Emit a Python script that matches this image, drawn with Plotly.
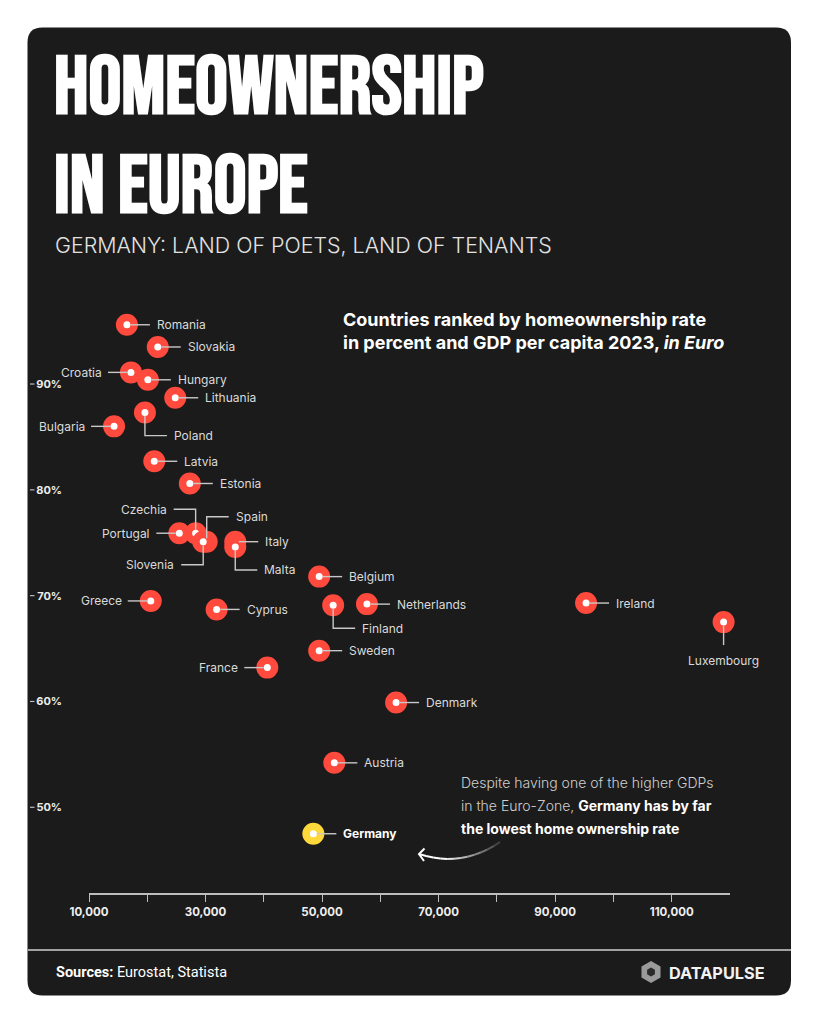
import math
import plotly.graph_objects as go

# ---------------- data ----------------
countries = ["Romania", "Slovakia", "Croatia", "Hungary", "Lithuania", "Poland", "Bulgaria",
             "Latvia", "Estonia", "Czechia", "Portugal", "Spain", "Slovenia", "Italy", "Malta",
             "Belgium", "Greece", "Cyprus", "Finland", "Netherlands", "Sweden", "France",
             "Ireland", "Luxembourg", "Denmark", "Austria", "Germany"]
gdp_per_capita = [16500, 21800, 17200, 20100, 24800, 19600, 14300,
                  21200, 27300, 28300, 25500, 30200, 29600, 35100, 35100,
                  49500, 20600, 31900, 51900, 57700, 49500, 40600,
                  95300, 118900, 62700, 52100, 48500]
ownership_rate = [95.6, 93.5, 91.1, 90.4, 88.7, 87.3, 86.0,
                  82.7, 80.6, 75.9, 75.9, 75.1, 75.1, 75.1, 74.6,
                  71.8, 69.5, 68.7, 69.1, 69.2, 64.8, 63.2,
                  69.3, 67.5, 59.9, 54.2, 47.5]
label_side = ["r", "r", "l", "r", "r", "dr", "l",
              "r", "r", "ul", "l", "ur", "dl", "r", "dr",
              "r", "l", "r", "dr", "r", "r", "l",
              "r", "d", "r", "r", "r"]
highlight = "Germany"

x_tickvals = [10000, 20000, 30000, 40000, 50000, 60000, 70000, 80000, 90000, 100000, 110000]
x_ticktext = ["10,000", "", "30,000", "", "50,000", "", "70,000", "", "90,000", "", "110,000"]
y_tickvals = [50, 60, 70, 80, 90]
y_ticktext = ["50%", "60%", "70%", "80%", "90%"]

# ---------------- geometry (page pixels; the page body has an 8px margin) ----------------
OFF = 8
W, H = 819 - OFF, 1024 - OFF
PL, PR, PT, PB = 89, 730, 300, 893          # plot area in page pixels
ML, MT = PL - OFF, PT - OFF
MR, MB = W - (PR - OFF), H - (PB - OFF)
PW, PH = PR - PL, PB - PT

CARD = "#1b1b1b"
RED = "#ff4a3d"
YELLOW = "#ffd83b"
LINE = "#c8c8c8"
TXT = "#dadada"
BODY = "Inter, 'Noto Sans', sans-serif"
TITLE_FONT = "'Bebas Neue', Oswald, Anton, 'League Gothic', 'Roboto Condensed', 'Liberation Sans Narrow', 'DejaVu Sans Condensed', sans-serif"


def px(xp):
    return (xp - PL) / PW


def py(yp):
    return (PB - yp) / PH


fig = go.Figure()

colors = [YELLOW if c == highlight else RED for c in countries]
fig.add_trace(go.Scatter(
    x=gdp_per_capita, y=ownership_rate, mode="markers",
    marker=dict(size=14.5, color="white", line=dict(color=colors, width=7.5)),
    hoverinfo="text", text=countries, showlegend=False, cliponaxis=False,
))

shapes = []
annotations = []

# card background
x0, x1, y0, y1 = px(27.5), px(791), py(27.5), py(995.5)
rx, ry = 15 / PW, 15 / PH
card_path = (f"M {x0+rx},{y0} L {x1-rx},{y0} Q {x1},{y0} {x1},{y0-ry} "
             f"L {x1},{y1+ry} Q {x1},{y1} {x1-rx},{y1} L {x0+rx},{y1} "
             f"Q {x0},{y1} {x0},{y1+ry} L {x0},{y0-ry} Q {x0},{y0} {x0+rx},{y0} Z")
shapes.append(dict(type="path", xref="paper", yref="paper", path=card_path,
                   fillcolor=CARD, line=dict(width=0), layer="below"))

# footer divider
shapes.append(dict(type="line", xref="paper", yref="paper", x0=px(28), x1=px(791),
                   y0=py(950), y1=py(950), line=dict(color="#d0d0d0", width=1.5), layer="below"))

# y tick dashes
for v in y_tickvals:
    shapes.append(dict(type="line", xref="paper", yref="y", x0=px(30), x1=px(34.5),
                       y0=v, y1=v, line=dict(color="#bbbbbb", width=1.2)))

# leader lines & labels
L, G, E = 23, 28, 23
for c, xv, yv, s in zip(countries, gdp_per_capita, ownership_rate, label_side):
    if s == "r":
        path, tx, ty, anc = f"M 3.5,0 L {L},0", G, 0, "left"
    elif s == "l":
        path, tx, ty, anc = f"M -3.5,0 L {-L},0", -G + 1, 0, "right"
    elif s == "dr":
        path, tx, ty, anc = f"M 0,-3.5 L 0,{-E} L {L-1},{-E}", G - 1, -E, "left"
    elif s == "dl":
        path, tx, ty, anc = f"M 0,-3.5 L 0,{-E} L {-(L-1)},{-E}", -(G - 1), -E, "right"
    elif s == "ul":
        path, tx, ty, anc = f"M 0,3.5 L 0,{E+1} L {-(L-1)},{E+1}", -(G - 1), E + 1, "right"
    elif s == "ur":
        path, tx, ty, anc = f"M 0,3.5 L 0,{E+2} L {L-1},{E+2}", G - 1, E + 2, "left"
    else:  # down, label centred below
        path, tx, ty, anc = f"M 0,-3.5 L 0,{-E}", 0, -38, "center"
    shapes.append(dict(type="path", xref="x", yref="y", xsizemode="pixel", ysizemode="pixel",
                       xanchor=xv, yanchor=yv, path=path,
                       line=dict(color=LINE, width=1.4)))
    is_hl = c == highlight
    annotations.append(dict(x=xv, y=yv, xref="x", yref="y", text=f"<b>{c}</b>" if is_hl else c,
                            showarrow=False, xanchor=anc, yanchor="middle", xshift=tx, yshift=ty,
                            font=dict(family=BODY, size=12, color="white" if is_hl else TXT)))

# titles
annotations.append(dict(xref="paper", yref="paper", x=px(52), y=py(88), text="HOMEOWNERSHIP",
                        showarrow=False, xanchor="left", yanchor="middle",
                        font=dict(family=TITLE_FONT, size=82, color="white", weight=700)))
annotations.append(dict(xref="paper", yref="paper", x=px(52), y=py(187), text="IN EUROPE",
                        showarrow=False, xanchor="left", yanchor="middle",
                        font=dict(family=TITLE_FONT, size=82, color="white", weight=700)))
annotations.append(dict(xref="paper", yref="paper", x=px(53), y=py(245),
                        text="GERMANY: LAND OF POETS, LAND OF TENANTS",
                        showarrow=False, xanchor="left", yanchor="middle",
                        font=dict(family=BODY, size=21.4, color="#e2e2e2", weight=300)))

# chart heading
annotations.append(dict(xref="paper", yref="paper", x=px(341), y=py(319),
                        text="Countries ranked by homeownership rate",
                        showarrow=False, xanchor="left", yanchor="middle",
                        font=dict(family=BODY, size=18, color="white", weight=700)))
annotations.append(dict(xref="paper", yref="paper", x=px(341), y=py(342),
                        text="in percent and GDP per capita 2023, <i>in Euro</i>",
                        showarrow=False, xanchor="left", yanchor="middle",
                        font=dict(family=BODY, size=18, color="white", weight=700)))

# callout text
callout = ["Despite having one of the higher GDPs",
           "in the Euro-Zone, <span style='color:white'><b>Germany has by far</b></span>",
           "<span style='color:white'><b>the lowest home ownership rate</b></span>"]
for i, t in enumerate(callout):
    annotations.append(dict(xref="paper", yref="paper", x=px(459), y=py(782 + 23 * i), text=t,
                            showarrow=False, xanchor="left", yanchor="middle",
                            font=dict(family=BODY, size=14, color="#cfcfcf", weight=300)))

# curved arrow (fading toward the right)
P0, P1, P2 = (500, 842), (462, 868), (419, 854)
n = 12
pts = []
for i in range(n + 1):
    t = i / n
    pts.append(((1 - t) ** 2 * P0[0] + 2 * (1 - t) * t * P1[0] + t ** 2 * P2[0],
                (1 - t) ** 2 * P0[1] + 2 * (1 - t) * t * P1[1] + t ** 2 * P2[1]))
for i in range(n):
    op = min(1.0, 0.08 + 1.2 * (i + 1) / n)
    shapes.append(dict(type="line", xref="paper", yref="paper",
                       x0=px(pts[i][0]), y0=py(pts[i][1]), x1=px(pts[i + 1][0]), y1=py(pts[i + 1][1]),
                       line=dict(color=f"rgba(255,255,255,{op:.2f})", width=2)))
shapes.append(dict(type="path", xref="paper", yref="paper",
                   path=f"M {px(424.5)},{py(848.5)} L {px(419)},{py(854)} L {px(424)},{py(861)}",
                   line=dict(color="white", width=2)))

# footer
annotations.append(dict(xref="paper", yref="paper", x=px(54), y=py(972),
                        text="<b>Sources:</b> Eurostat, Statista",
                        showarrow=False, xanchor="left", yanchor="middle",
                        font=dict(family="Roboto, sans-serif", size=14.5, color="white")))
# logo
hx, hy, hr = 651, 972, 11
hex_pts = [(hx + hr * math.cos(math.radians(90 + 60 * k)), hy + hr * math.sin(math.radians(90 + 60 * k)))
           for k in range(6)]
hex_path = "M " + " L ".join(f"{px(a)},{py(b)}" for a, b in hex_pts) + " Z"
shapes.append(dict(type="path", xref="paper", yref="paper", path=hex_path,
                   fillcolor="#9a9a9a", line=dict(width=0)))
hex_in = [(hx + 4.5 * math.cos(math.radians(90 + 60 * k)), hy + 4.5 * math.sin(math.radians(90 + 60 * k)))
          for k in range(6)]
shapes.append(dict(type="path", xref="paper", yref="paper",
                   path="M " + " L ".join(f"{px(a)},{py(b)}" for a, b in hex_in) + " Z",
                   fillcolor="#2a2a2a", line=dict(width=0)))
annotations.append(dict(xref="paper", yref="paper", x=px(667), y=py(973), text="<b>DATAPULSE</b>",
                        showarrow=False, xanchor="left", yanchor="middle",
                        font=dict(family="Inter, sans-serif", size=16.3, color="#f2f2f2")))

fig.update_layout(
    width=W, height=H,
    margin=dict(l=ML, r=MR, t=MT, b=MB, pad=0),
    paper_bgcolor="white", plot_bgcolor="rgba(0,0,0,0)",
    shapes=shapes, annotations=annotations,
    xaxis=dict(range=[10000, 120000], showgrid=False, zeroline=False, showline=True,
               linecolor="#bdbdbd", linewidth=1.5, ticks="outside", ticklen=7, tickwidth=1.3,
               tickcolor="#bdbdbd", tickvals=x_tickvals, ticktext=x_ticktext,
               tickfont=dict(family=BODY, size=11.5, color="#eeeeee", weight=700), fixedrange=True),
    yaxis=dict(range=[41.9, 97.94], showgrid=False, zeroline=False, showline=False,
               tickvals=y_tickvals, ticktext=y_ticktext, ticks="", ticklabelstandoff=26,
               tickfont=dict(family=BODY, size=11, color="#eeeeee", weight=700), fixedrange=True),
    font=dict(family=BODY),
)

fig.write_html("out.html")
